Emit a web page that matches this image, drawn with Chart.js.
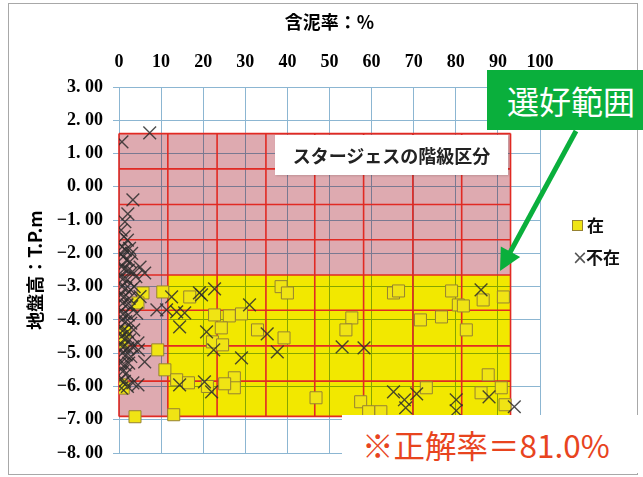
<!DOCTYPE html>
<html>
<head>
<meta charset="utf-8">
<script src="https://cdn.jsdelivr.net/npm/chart.js@4"></script>
<style>
    body { margin: 0; background: #fff; }
    #wrap { position: relative; width: 643px; height: 477px; overflow: hidden; }
    #frame { position: absolute; left: 8px; top: 3px; width: 628px; height: 470px; border: 1px solid #a8a8a8; pointer-events: none; }
    .jp { font-family: "Noto Sans CJK JP", sans-serif; }
    #stage { position: absolute; left: 275px; top: 135px; width: 233px; height: 40px; background: #fff; box-shadow: 1px 1px 2px rgba(0,0,0,0.15);
        font-size: 18px; font-weight: 700; color: #222; line-height: 40px; text-align: center; }
    #legend { position: absolute; left: 572px; top: 212px; font-size: 17px; font-weight: 700; color: #111; }
    #legend div { height: 32px; line-height: 26px; }
    .sq { display: inline-block; width: 9px; height: 9px; background: rgb(240,228,20); border: 1px solid rgb(150,130,50); margin-right: 4px; vertical-align: 1px; }
    .cr { display: inline-block; width: 14px; color: #555; font-weight: 400; font-size: 19px; font-family: "DejaVu Sans", sans-serif; }
    #callout { position: absolute; left: 487px; top: 70px; width: 170px; height: 60px; background: rgb(10,175,60); color: #fff;
        font-size: 32px; line-height: 60px; padding-left: 20px; box-sizing: border-box; }
    #rate { position: absolute; left: 342px; top: 415px; width: 301px; height: 58px; background: #fff; color: rgb(232,68,30);
        font-size: 31.5px; line-height: 58px; padding-left: 20px; box-sizing: border-box; }
</style>
</head>
<body>
<div id="wrap">
    <canvas id="c" width="643" height="477"></canvas>
    <div id="frame"></div>
    <div id="stage" class="jp">スタージェスの階級区分</div>
    <div id="legend" class="jp">
        <div><span class="sq"></span>在</div>
        <div><span class="cr">×</span>不在</div>
    </div>
    <div id="callout" class="jp">選好範囲</div>
    <div id="rate" class="jp">※正解率＝81.0%</div>
</div>
<script>
// 含泥率(%) / 地盤高(T.P.m)
const xTicks = [0, 10, 20, 30, 40, 50, 60, 70, 80, 90, 100]
const yTicks = [3, 2, 1, 0, -1, -2, -3, -4, -5, -6, -7, -8]
// スタージェスの階級区分
const classX = [0, 11.6, 23.3, 34.9, 46.5, 58.1, 69.8, 81.4, 93.0]
const classY = [1.6, 0.54, -0.53, -1.59, -2.65, -3.71, -4.78, -5.84, -6.9]
// 選好範囲
const prefX = [11.6, 93.0]
const prefY = [-2.65, -6.9]

// 在
const zaiPts = [
    [5.7, -3.19], [4.5, -3.49], [10.4, -3.16], [1.4, -4.36], [0.7, -4.66], [9.2, -4.9], [10.9, -5.5],
    [0.5, -5.95], [3.8, -6.91], [13.0, -6.85], [13.7, -5.8], [16.5, -5.89], [21.0, -6.0], [16.8, -3.31],
    [38.5, -3.0], [40.0, -3.19], [22.7, -3.85], [26.2, -3.88], [29.1, -3.82], [24.3, -4.24], [32.9, -4.3],
    [39.2, -4.54], [22.2, -4.66], [24.6, -4.75], [27.4, -5.74], [27.4, -6.04], [25.1, -5.92], [46.8, -6.34],
    [55.3, -3.94], [53.9, -4.3], [57.4, -6.46], [65.2, -3.19], [66.4, -3.13], [79.0, -3.13], [86.5, -3.4],
    [91.3, -3.31], [80.6, -3.55], [81.8, -3.58], [71.6, -4.0], [76.6, -3.91], [82.5, -4.3], [87.7, -5.65],
    [73.0, -6.04], [86.0, -6.19], [90.8, -6.04], [91.7, -6.55], [59.3, -6.76], [62.2, -6.76], [1.0, -6.05]
]
// 不在
const fuzaiPts = [
    [0.7, 1.35], [7.3, 1.62], [3.3, -0.39], [2.1, -0.81], [1.4, -1.05], [6.1, -2.59], [5.0, -2.41],
    [12.5, -3.31], [9.0, -3.7], [11.3, -3.7], [13.7, -3.76], [15.6, -3.79], [19.1, -3.19], [14.4, -4.21],
    [6.1, -5.26], [4.5, -4.69], [14.4, -5.95], [20.3, -5.86], [3.3, -5.89], [22.0, -6.16], [22.7, -3.07],
    [31.0, -3.55], [20.8, -4.36], [35.2, -4.42], [22.5, -4.9], [29.1, -5.14], [37.6, -4.96], [53.0, -4.81],
    [58.2, -4.84], [19.6, -3.25], [86.0, -3.1], [65.2, -6.16], [67.8, -6.4], [68.1, -6.64], [70.7, -6.22],
    [80.1, -6.4], [80.1, -6.73], [87.9, -6.31], [93.9, -6.61],
    // 0~5%付近の密集
    [0.5, -1.3], [1.2, -1.5], [2.0, -1.6], [0.8, -1.8], [1.5, -1.9], [2.5, -1.85], [3.0, -2.0], [0.3, -2.0],
    [1.0, -2.1], [1.8, -2.2], [2.6, -2.25], [0.6, -2.4], [1.4, -2.45], [2.2, -2.5], [3.2, -2.55], [0.2, -2.7],
    [1.1, -2.75], [2.0, -2.8], [4.0, -2.7], [0.7, -3.0], [1.6, -3.05], [2.8, -3.1], [3.6, -3.0], [0.4, -3.25],
    [1.3, -3.3], [2.4, -3.35], [5.0, -3.3], [0.9, -3.5], [1.9, -3.55], [3.0, -3.6], [0.3, -3.75], [1.2, -3.8],
    [2.2, -3.85], [4.2, -3.8], [0.7, -4.0], [1.6, -4.05], [2.8, -4.1], [0.2, -4.25], [1.1, -4.3], [2.0, -4.35],
    [3.5, -4.3], [0.6, -4.5], [1.5, -4.55], [2.5, -4.6], [0.3, -4.75], [1.2, -4.8], [2.1, -4.85], [3.2, -4.8],
    [0.8, -5.0], [1.7, -5.05], [2.8, -5.1], [4.6, -4.9], [0.4, -5.3], [1.4, -5.35], [2.3, -5.3], [0.9, -5.55],
    [1.8, -5.6], [0.3, -5.8], [1.3, -5.85], [2.0, -6.0], [0.6, -6.05], [4.5, -5.95]
]

const gridColor = 'rgb(140,182,210)'

// 階級区分と選好範囲の塗り
const regionPlugin = {
    id: 'regions',
    beforeDatasetsDraw(chart) {
        const { ctx, scales: { x, y } } = chart
        const x0 = x.getPixelForValue(classX[0])
        const x1 = x.getPixelForValue(classX[classX.length - 1])
        const y0 = y.getPixelForValue(classY[0])
        const y1 = y.getPixelForValue(classY[classY.length - 1])
        const px0 = x.getPixelForValue(prefX[0]), px1 = x.getPixelForValue(prefX[1])
        const py0 = y.getPixelForValue(prefY[0]), py1 = y.getPixelForValue(prefY[1])
        ctx.save()
        ctx.globalCompositeOperation = 'multiply'
        ctx.fillStyle = 'rgb(222,170,176)'
        ctx.beginPath()
        ctx.rect(x0, y0, x1 - x0, y1 - y0)
        ctx.rect(px0, py0, px1 - px0, py1 - py0)
        ctx.fill('evenodd')
        ctx.fillStyle = 'rgb(242,232,0)'
        ctx.fillRect(px0, py0, px1 - px0, py1 - py0)
        ctx.globalCompositeOperation = 'source-over'
        ctx.strokeStyle = 'rgb(225,42,35)'
        ctx.lineWidth = 1.6
        ctx.beginPath()
        for (const v of classX) {
            const p = x.getPixelForValue(v)
            ctx.moveTo(p, y0)
            ctx.lineTo(p, y1)
        }
        for (const v of classY) {
            const p = y.getPixelForValue(v)
            ctx.moveTo(x0, p)
            ctx.lineTo(x1, p)
        }
        ctx.stroke()
        ctx.restore()
    },
    afterDraw(chart) {
        // 選好範囲への矢印
        const ctx = chart.ctx
        const sx = 576, sy = 131, tx = 500, ty = 271
        const len = Math.hypot(tx - sx, ty - sy)
        const ux = (tx - sx) / len, uy = (ty - sy) / len
        const bx = tx - ux * 22, by = ty - uy * 22
        ctx.save()
        ctx.strokeStyle = ctx.fillStyle = 'rgb(10,175,60)'
        ctx.lineWidth = 5
        ctx.beginPath()
        ctx.moveTo(sx, sy)
        ctx.lineTo(bx + ux * 4, by + uy * 4)
        ctx.stroke()
        ctx.beginPath()
        ctx.moveTo(tx, ty)
        ctx.lineTo(bx - uy * 11, by + ux * 11)
        ctx.lineTo(bx + uy * 11, by - ux * 11)
        ctx.closePath()
        ctx.fill()
        ctx.restore()
    }
}

const tickFont = { family: '"Liberation Serif", serif', size: 18, weight: 'bold' }
const titleFont = { family: '"Noto Sans CJK JP", sans-serif', size: 18, weight: 'bold' }

new Chart(document.getElementById('c'), {
    type: 'scatter',
    data: {
        datasets: [
            {
                label: '不在',
                data: fuzaiPts.map(p => ({ x: p[0], y: p[1] })),
                pointStyle: 'crossRot',
                pointRadius: 9,
                borderColor: 'rgba(45,45,45,0.85)',
                borderWidth: 1.4
            },
            {
                label: '在',
                data: zaiPts.map(p => ({ x: p[0], y: p[1] })),
                pointStyle: 'rect',
                pointRadius: 8.5,
                backgroundColor: 'rgb(240,228,20)',
                borderColor: 'rgb(150,130,50)',
                borderWidth: 1
            }
        ]
    },
    options: {
        responsive: false,
        animation: false,
        layout: { padding: { left: 14, right: 103, top: 10, bottom: 24 } },
        plugins: { legend: { display: false }, tooltip: { enabled: false } },
        scales: {
            x: {
                position: 'top',
                min: 0, max: 100,
                afterFit: s => { s.height = 77 },
                afterBuildTicks: s => { s.ticks = xTicks.map(v => ({ value: v })) },
                grid: { color: gridColor, drawTicks: false },
                border: { color: gridColor },
                ticks: { font: tickFont, color: '#000', padding: 14, maxRotation: 0 },
                title: { display: true, text: '含泥率：%', font: titleFont, color: '#000', padding: { top: 1, bottom: 0 } }
            },
            y: {
                min: -8, max: 3,
                afterFit: s => { s.width = 105 },
                afterBuildTicks: s => { s.ticks = yTicks.map(v => ({ value: v })) },
                grid: { color: gridColor, tickLength: 6 },
                border: { color: gridColor },
                ticks: {
                    font: tickFont, color: '#000', padding: 10,
                    callback: v => v.toFixed(2).replace('.', '. ').replace('-', '−')
                },
                title: { display: true, text: '地盤高：T.P.m', font: titleFont, color: '#000', padding: { top: 10, bottom: 0 } }
            }
        }
    },
    plugins: [regionPlugin]
})
</script>
</body>
</html>
